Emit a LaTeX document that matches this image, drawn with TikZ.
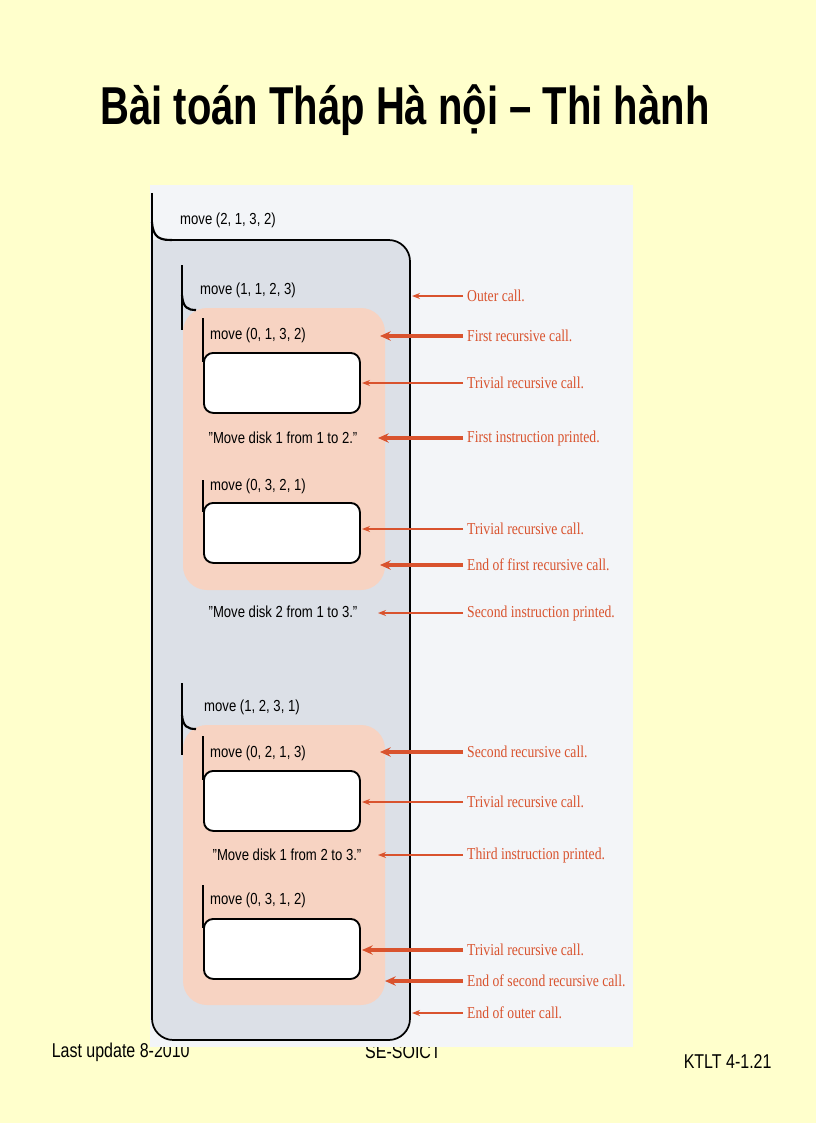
\documentclass[tikz,border=0pt]{standalone}
\usepackage{fontspec}
\setmainfont{Liberation Sans}
\newfontfamily\ser{Liberation Serif}
\definecolor{bg}{HTML}{FFFFCC}
\definecolor{arr}{HTML}{D9532E}
\definecolor{peach}{HTML}{F7D3C2}
\definecolor{grayb}{HTML}{DCE0E7}
\definecolor{panel}{HTML}{F3F5F8}
\begin{document}
\begin{tikzpicture}[x=0.75pt,y=-0.75pt,
  mv/.style={anchor=west,inner sep=0,font=\fontsize{12}{14}\selectfont,xscale=0.82},
  instr/.style={inner sep=0,font=\fontsize{12}{14}\selectfont,xscale=0.82},
  lab/.style={anchor=west,inner sep=0,text=arr,font=\ser\fontsize{12.5}{14}\selectfont,xscale=0.82},
  thinar/.style={draw=arr,line width=1pt,-{Stealth[length=6pt]}},
  thickar/.style={draw=arr,line width=2.4pt,-{Stealth[length=8pt,width=7pt]}},
  wbox/.style={fill=white,draw=black,line width=1.4pt,rounded corners=7pt},
  brk/.style={draw=black,line width=1.6pt}]
\usetikzlibrary{arrows.meta}
\fill[bg] (0,0) rectangle (816,1123);
\useasboundingbox (0,0) rectangle (816,1123);
\node[font=\bfseries\fontsize{40}{46}\selectfont,xscale=0.75] (title) at (405,110) {Bài toán Tháp Hà nội – Thi hành};
% footer (partly hidden)
\node[anchor=west,font=\fontsize{15}{17}\selectfont,xscale=0.8] (f1) at (48,1052) {Last update 8-2010};
\node[font=\fontsize{15}{17}\selectfont,xscale=0.8] (f2) at (403,1052) {SE-SOICT};
\node[anchor=west,font=\fontsize{15}{17}\selectfont,xscale=0.8] (f3) at (680,1062) {KTLT 4-1.21};
% panel
\fill[panel] (150,185) rectangle (633,1047);
% outer box
\fill[grayb] (152,240) [rounded corners=16pt] -- (410,240) -- (410,1040) -- (152,1040) [sharp corners] -- cycle;
\draw[line width=1.3pt,rounded corners=16pt] (165,240) -- (410,240) -- (410,1040) -- (152,1040) -- (152,245);
\draw[brk] (152,193) -- (152,245);
\draw[brk] (152,222) .. controls (153,238) and (160,240) .. (172,240);
\node[mv] (m0) at (180,220) {move (2, 1, 3, 2)};
% first recursive call
\fill[peach,rounded corners=18pt] (183,308) rectangle (385,590);
\draw[brk] (182,265) -- (182,330);
\draw[brk] (182,295) .. controls (183,308) and (188,310) .. (196,310);
\node[mv] (m1) at (200,290) {move (1, 1, 2, 3)};
\draw[brk] (203,318) -- (203,362);
\node[mv] (m2) at (210,335) {move (0, 1, 3, 2)};
\node[wbox,minimum width=117pt,minimum height=45pt,anchor=north west] (b1) at (203,352) {};
\node[instr] (i1) at (283,438) {"Move disk 1 from 1 to 2."};
\draw[brk] (203,480) -- (203,512);
\node[mv] (m3) at (210,486) {move (0, 3, 2, 1)};
\node[wbox,minimum width=117pt,minimum height=45pt,anchor=north west] (b2) at (203,502) {};
\node[instr] (i2) at (283,612) {"Move disk 2 from 1 to 3."};
% second recursive call
\fill[peach,rounded corners=18pt] (183,725) rectangle (385,1005);
\draw[brk] (182,683) -- (182,755);
\draw[brk] (182,715) .. controls (183,727) and (188,729) .. (196,729);
\node[mv] (m4) at (204,707) {move (1, 2, 3, 1)};
\draw[brk] (203,736) -- (203,780);
\node[mv] (m5) at (210,753) {move (0, 2, 1, 3)};
\node[wbox,minimum width=117pt,minimum height=45pt,anchor=north west] (b3) at (203,770) {};
\node[instr] (i3) at (287,855) {"Move disk 1 from 2 to 3."};
\draw[brk] (203,885) -- (203,928);
\node[mv] (m6) at (210,900) {move (0, 3, 1, 2)};
\node[wbox,minimum width=117pt,minimum height=45pt,anchor=north west] (b4) at (203,918) {};
% labels and arrows
\node[lab] (l1) at (467,296) {Outer call.};
\node[lab] (l2) at (467,336) {First recursive call.};
\node[lab] (l3) at (467,383) {Trivial recursive call.};
\node[lab] (l4) at (467,438) {First instruction printed.};
\node[lab] (l5) at (467,529) {Trivial recursive call.};
\node[lab] (l6) at (467,565) {End of first recursive call.};
\node[lab] (l7) at (467,613) {Second instruction printed.};
\node[lab] (l8) at (467,752) {Second recursive call.};
\node[lab] (l9) at (467,802) {Trivial recursive call.};
\node[lab] (l10) at (467,855) {Third instruction printed.};
\node[lab] (l11) at (467,950) {Trivial recursive call.};
\node[lab] (l12) at (467,981) {End of second recursive call.};
\node[lab] (l13) at (467,1013) {End of outer call.};
\coordinate (t1) at (412,296); \coordinate (t2) at (380,336);
\coordinate (t3) at (362,383); \coordinate (t4) at (378,438);
\coordinate (t5) at (362,529); \coordinate (t6) at (380,565);
\coordinate (t7) at (378,613); \coordinate (t8) at (380,752);
\coordinate (t9) at (362,802); \coordinate (t10) at (378,855);
\coordinate (t11) at (362,950); \coordinate (t12) at (385,981);
\coordinate (t13) at (412,1013);
\draw[thinar] ([xshift=-3pt]l1.west) -- (t1);
\draw[thickar] ([xshift=-3pt]l2.west) -- (t2);
\draw[thinar] ([xshift=-3pt]l3.west) -- (t3);
\draw[thickar] ([xshift=-3pt]l4.west) -- (t4);
\draw[thinar] ([xshift=-3pt]l5.west) -- (t5);
\draw[thickar] ([xshift=-3pt]l6.west) -- (t6);
\draw[thinar] ([xshift=-3pt]l7.west) -- (t7);
\draw[thickar] ([xshift=-3pt]l8.west) -- (t8);
\draw[thinar] ([xshift=-3pt]l9.west) -- (t9);
\draw[thinar] ([xshift=-3pt]l10.west) -- (t10);
\draw[thickar] ([xshift=-3pt]l11.west) -- (t11);
\draw[thickar] ([xshift=-3pt]l12.west) -- (t12);
\draw[thinar] ([xshift=-3pt]l13.west) -- (t13);
\end{tikzpicture}
\end{document}
